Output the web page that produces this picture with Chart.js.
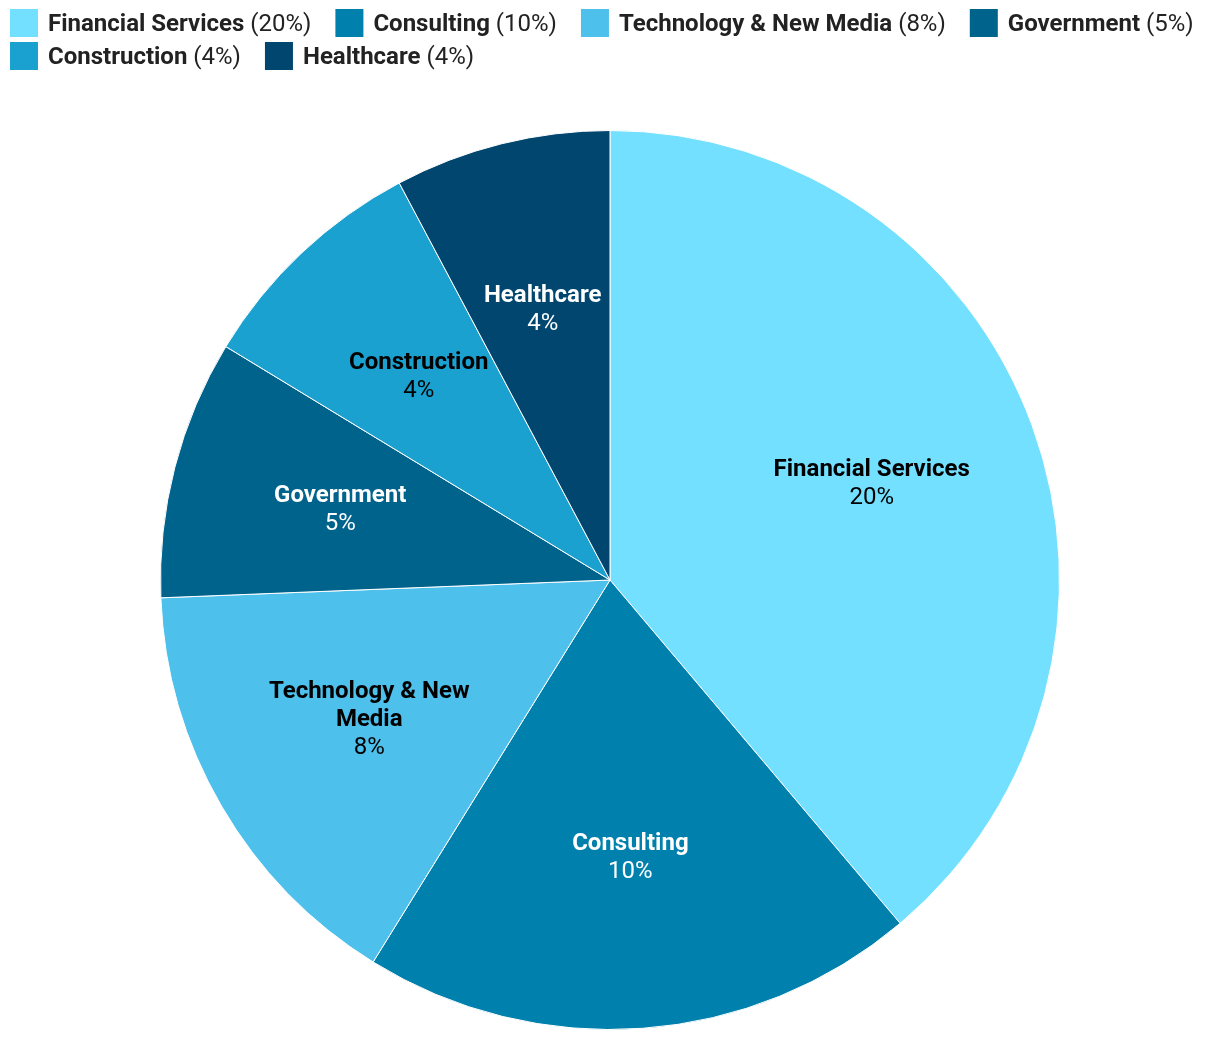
<!DOCTYPE html>
<html>
<head>
<meta charset="utf-8">
<script src="https://cdn.jsdelivr.net/npm/chart.js@4.4.1/dist/chart.umd.min.js"></script>
<style>
  html, body { margin: 0; padding: 0; background: #fff; }
  #wrap { position: relative; width: 1220px; height: 1040px; }
</style>
</head>
<body>
<div id="wrap"><canvas id="pieChart"></canvas></div>
<script>
  // Chart data (slice sizes, shown rounded)
  const sectors = ['Financial Services', 'Consulting', 'Technology & New Media', 'Government', 'Construction', 'Healthcare'];
  const shares = [20, 10.3, 8, 4.8, 4.4, 4];
  const sliceColors = ['#74e0ff', '#0080ac', '#4dc0ec', '#00638c', '#1aa1cf', '#00466e'];
  const labelColors = ['#000', '#fff', '#000', '#fff', '#000', '#fff'];

  const FONT = 'Roboto, "Open Sans", sans-serif';
  const SIZE = 24;

  function pctText(v) {
    return Math.round(v) + '%';
  }

  // Legend drawn on the canvas (bold name + regular percentage)
  const legendPlugin = {
    id: 'topLegend',
    afterDraw(chart) {
      const ctx = chart.ctx;
      const box = 28;
      const rowH = 33;
      let x = 10;
      let y = 23;
      ctx.save();
      ctx.textBaseline = 'middle';
      sectors.forEach((name, i) => {
        ctx.font = 'bold ' + SIZE + 'px ' + FONT;
        const w1 = ctx.measureText(name).width;
        ctx.font = SIZE + 'px ' + FONT;
        const pct = ' (' + pctText(shares[i]) + ')';
        const w2 = ctx.measureText(pct).width;
        const itemW = box + 10 + w1 + w2;
        if (x + itemW > 1215) {
          x = 10;
          y += rowH;
        }
        ctx.fillStyle = sliceColors[i];
        ctx.fillRect(x, y - box / 2, box, box);
        ctx.fillStyle = '#222';
        ctx.textAlign = 'left';
        ctx.font = 'bold ' + SIZE + 'px ' + FONT;
        ctx.fillText(name, x + box + 10, y + 2);
        ctx.font = SIZE + 'px ' + FONT;
        ctx.fillText(pct, x + box + 10 + w1, y + 2);
        x += itemW + 24;
      });
      ctx.restore();
    }
  };

  // Labels inside each slice
  const sliceLabelPlugin = {
    id: 'sliceLabels',
    afterDatasetsDraw(chart) {
      const ctx = chart.ctx;
      const meta = chart.getDatasetMeta(0);
      ctx.save();
      ctx.textAlign = 'center';
      ctx.textBaseline = 'middle';
      meta.data.forEach((arc, i) => {
        const mid = (arc.startAngle + arc.endAngle) / 2;
        const r = arc.outerRadius * 0.62;
        const cx = arc.x + Math.cos(mid) * r;
        const cy = arc.y + Math.sin(mid) * r;

        // wrap long names
        ctx.font = 'bold ' + SIZE + 'px ' + FONT;
        const words = sectors[i].split(' ');
        const lines = [];
        let line = '';
        words.forEach(word => {
          const test = line ? line + ' ' + word : word;
          if (line && ctx.measureText(test).width > 230) {
            lines.push(line);
            line = word;
          } else {
            line = test;
          }
        });
        lines.push(line);

        const lh = 28;
        const total = (lines.length + 1) * lh;
        let ty = cy - total / 2 + lh / 2;
        ctx.fillStyle = labelColors[i];
        lines.forEach(l => {
          ctx.fillText(l, cx, ty);
          ty += lh;
        });
        ctx.font = SIZE + 'px ' + FONT;
        ctx.fillText(pctText(shares[i]), cx, ty);
      });
      ctx.restore();
    }
  };

  new Chart(document.getElementById('pieChart'), {
    type: 'pie',
    data: {
      labels: sectors,
      datasets: [{
        data: shares,
        backgroundColor: sliceColors,
        borderColor: '#ffffff',
        borderWidth: 1
      }]
    },
    options: {
      responsive: true,
      maintainAspectRatio: false,
      animation: false,
      layout: {
        padding: { top: 130, bottom: 10, left: 0, right: 0 }
      },
      plugins: {
        legend: { display: false },
        tooltip: { enabled: false }
      }
    },
    plugins: [legendPlugin, sliceLabelPlugin]
  });
</script>
</body>
</html>
